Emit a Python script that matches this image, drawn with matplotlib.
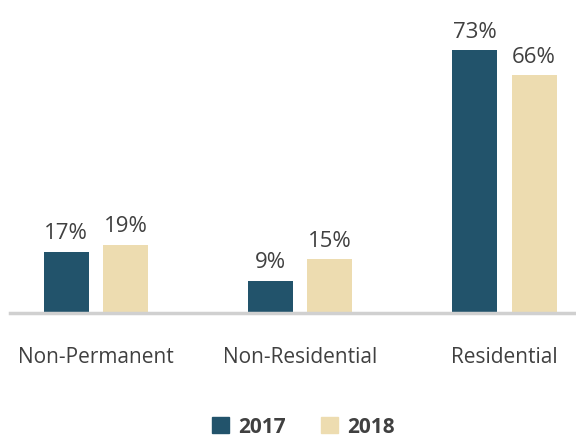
import numpy as np
import matplotlib
matplotlib.use("Agg")
import matplotlib.pyplot as plt
from matplotlib.patches import Patch

categories = ["Non-Permanent", "Non-Residential", "Residential"]
vals_2017 = [17, 9, 73]
vals_2018 = [19, 15, 66]
series = ["2017", "2018"]

C17 = "#22536b"
C18 = "#eddcb0"
TXT = "#404040"

plt.rcParams['font.family'] = ['Open Sans', 'DejaVu Sans']

fig = plt.figure(figsize=(5.76, 4.39), dpi=100)
ax = fig.add_axes([10/576, 125/439, 566/576, 294/439])

x = np.arange(len(categories))
w = 0.22
off = 0.145
b1 = ax.bar(x - off, vals_2017, w, color=C17)
b2 = ax.bar(x + off, vals_2018, w, color=C18)

for bars, vals in ((b1, vals_2017), (b2, vals_2018)):
    for b, v in zip(bars, vals):
        ax.text(b.get_x() + b.get_width()/2, v + 2.3, f"{v}%", ha="center",
                va="bottom", fontsize=16, color=TXT)

ax.set_xlim(-0.42, 2.35)
ax.set_ylim(0, 81.6)
for s in ("top", "right", "left"):
    ax.spines[s].set_visible(False)
ax.spines["bottom"].set_color("#d0d0d0")
ax.spines["bottom"].set_linewidth(2.5)
ax.set_yticks([])
ax.set_xticks(x)
ax.set_xticklabels(categories, fontsize=15, color=TXT)
ax.tick_params(axis="x", length=0, pad=24)

handles = [Patch(color=C17), Patch(color=C18)]
leg = fig.legend(handles, series, loc="center", bbox_to_anchor=(0.527, 0.026),
                 ncol=2, frameon=False, handlelength=0.8, handleheight=0.8,
                 handletextpad=0.45, columnspacing=1.7,
                 prop={"size": 15, "weight": "bold"})
for t in leg.get_texts():
    t.set_color(TXT)

fig.savefig("out.png", dpi=100)
